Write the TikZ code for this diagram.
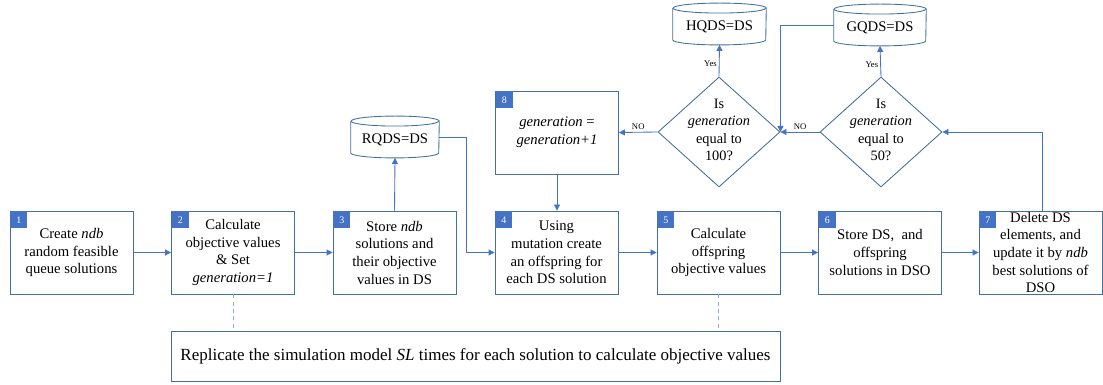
\documentclass[tikz,border=0pt]{standalone}
\usepackage{fontspec}
\setmainfont{Liberation Serif}
\usetikzlibrary{arrows.meta,shapes.geometric,calc}

\definecolor{boxline}{RGB}{65,113,156}
\definecolor{flow}{RGB}{68,114,196}
\definecolor{dashline}{RGB}{143,170,220}

\tikzset{
  stepbox/.style={draw=boxline, line width=0.65pt, fill=white, align=center,
    inner sep=0pt, minimum width=92.25pt, minimum height=62.25pt,
    font=\fontsize{11}{13.25}\selectfont},
  badge/.style={fill=flow, text=white, minimum size=12.75pt, inner sep=0pt,
    anchor=north west, font=\fontsize{7.5}{8}\selectfont},
  decision/.style={diamond, draw=boxline, line width=0.65pt, fill=white,
    inner sep=0pt, minimum width=91.5pt, minimum height=82.5pt},
  dectext/.style={align=center, inner sep=0pt, font=\fontsize{10.75}{13}\selectfont},
  store/.style={inner sep=0pt, minimum height=31pt},
  storetext/.style={inner sep=0pt, font=\fontsize{11}{13}\selectfont},
  flowarrow/.style={draw=flow, line width=0.65pt,
    -{Triangle[length=4.5pt,width=4.5pt]}},
  helper/.style={draw=dashline, line width=0.65pt, dash pattern=on 3pt off 2.5pt},
  answer/.style={font=\fontsize{6.5}{7}\selectfont, inner sep=1.5pt},
}

% cylinder outline drawn over a plain node: #1 node name, #2 half width
\newcommand\drawstore[2]{%
  \draw[boxline, line width=0.65pt]
    ([yshift=-3.75pt]#1.north west) -- ([yshift=3.75pt]#1.south west)
    arc[start angle=180, end angle=360, x radius=#2, y radius=3.75pt]
    -- ([yshift=-3.75pt]#1.north east)
    arc[start angle=0, end angle=180, x radius=#2, y radius=3.75pt];
  \draw[boxline, line width=0.65pt]
    ([yshift=-3.75pt]#1.north west)
    arc[start angle=180, end angle=360, x radius=#2, y radius=3.75pt];
}

\begin{document}
\begin{tikzpicture}[x=0.75pt, y=0.75pt]
\useasboundingbox (0,0) rectangle (1103,385);

% main row of steps
\node[stepbox] (b1) at (71.5,132.5) {Create \textit{ndb}\\random feasible\\queue solutions};
\node[stepbox] (b2) at (233,132.5) {Calculate\\objective values\\\& Set\\\textit{generation=1}};
\node[stepbox] (b3) at (394.5,132.5) {Store \textit{ndb}\\solutions and\\their objective\\values in DS};
\node[stepbox] (b4) at (556.5,132.5) {Using\\mutation create\\an offspring for\\each DS solution};
\node[stepbox] (b5) at (718.5,132.5) {Calculate\\offspring\\objective values};
\node[stepbox] (b6) at (880,132.5) {Store DS,\ \ and\\offspring\\solutions in DSO};
\node[stepbox] (b7) at (1040.5,132.5) {Delete DS\\elements, and\\update it by \textit{ndb}\\best solutions of\\DSO};
\node[stepbox] (b8) at (557,252.5) {\textit{generation} =\\\textit{generation+1}};

% step numbers
\node[badge] (n1) at ([shift={(0.35pt,-0.35pt)}]b1.north west) {1};
\node[badge] (n2) at ([shift={(0.35pt,-0.35pt)}]b2.north west) {2};
\node[badge] (n3) at ([shift={(0.35pt,-0.35pt)}]b3.north west) {3};
\node[badge] (n4) at ([shift={(0.35pt,-0.35pt)}]b4.north west) {4};
\node[badge] (n5) at ([shift={(0.35pt,-0.35pt)}]b5.north west) {5};
\node[badge] (n6) at ([shift={(0.35pt,-0.35pt)}]b6.north west) {6};
\node[badge] (n7) at ([shift={(0.35pt,-0.35pt)}]b7.north west) {7};
\node[badge] (n8) at ([shift={(0.35pt,-0.35pt)}]b8.north west) {8};

% decisions
\node[decision] (d1) at (719,253) {};
\node[dectext] (d1t) at (719,255) {Is\\\textit{generation}\\equal to\\100?};
\node[decision] (d2) at (881,253) {};
\node[dectext] (d2t) at (881,255) {Is\\\textit{generation}\\equal to\\50?};

% stored sets
\node[store, minimum width=66pt] (rq) at (395,248) {};
\drawstore{rq}{33pt}
\node[storetext] (rqt) at (395,245) {RQDS=DS};
\node[store, minimum width=69.75pt] (hq) at (719.5,361) {};
\drawstore{hq}{34.875pt}
\node[storetext] (hqt) at (719.5,358) {HQDS=DS};
\node[store, minimum width=69pt] (gq) at (880,360) {};
\drawstore{gq}{34.5pt}
\node[storetext] (gqt) at (880,357) {GQDS=DS};

% simulation note
\node[draw=boxline, line width=0.65pt, minimum width=456.75pt, minimum height=37.5pt,
  inner sep=0pt, font=\fontsize{12.75}{14}\selectfont] (sim) at (475.5,29)
  {Replicate the simulation model \textit{SL} times for each solution to calculate objective values};

% flow
\draw[flowarrow] (b1) -- (b2);
\draw[flowarrow] (b2) -- (b3);
\draw[flowarrow] (b3.north) -- (rq.south);
\coordinate (j1) at (466,132.5);
\draw[flowarrow] (rq.east) -| (j1) -- (b4.west);
\draw[flowarrow] (b8.south) -- (b8.south |- b4.north);
\draw[flowarrow] (b4) -- (b5);
\draw[flowarrow] (b5) -- (b6);
\draw[flowarrow] (b6) -- (b7);
\coordinate (j2) at (1042,174);
\draw[flowarrow] (j2) |- (d2.east);
\draw[flowarrow] (d2.west) -- node[answer, above] (no2) {NO} (d1.east);
\draw[flowarrow] (d2.north) -- node[answer, left, pos=0.4] (yes2) {Yes} (gq.south);
\draw[flowarrow] (gq.west) -| (d1.east);
\draw[flowarrow] (d1.west) -- node[answer, above] (no1) {NO} (b8.east);
\draw[flowarrow] (d1.north) -- node[answer, left, pos=0.4] (yes1) {Yes} (hq.south);

% links to the simulation note
\draw[helper] (b2.south) -- (b2.south |- sim.north);
\draw[helper] (b5.south) -- (b5.south |- sim.north);
\end{tikzpicture}
\end{document}
